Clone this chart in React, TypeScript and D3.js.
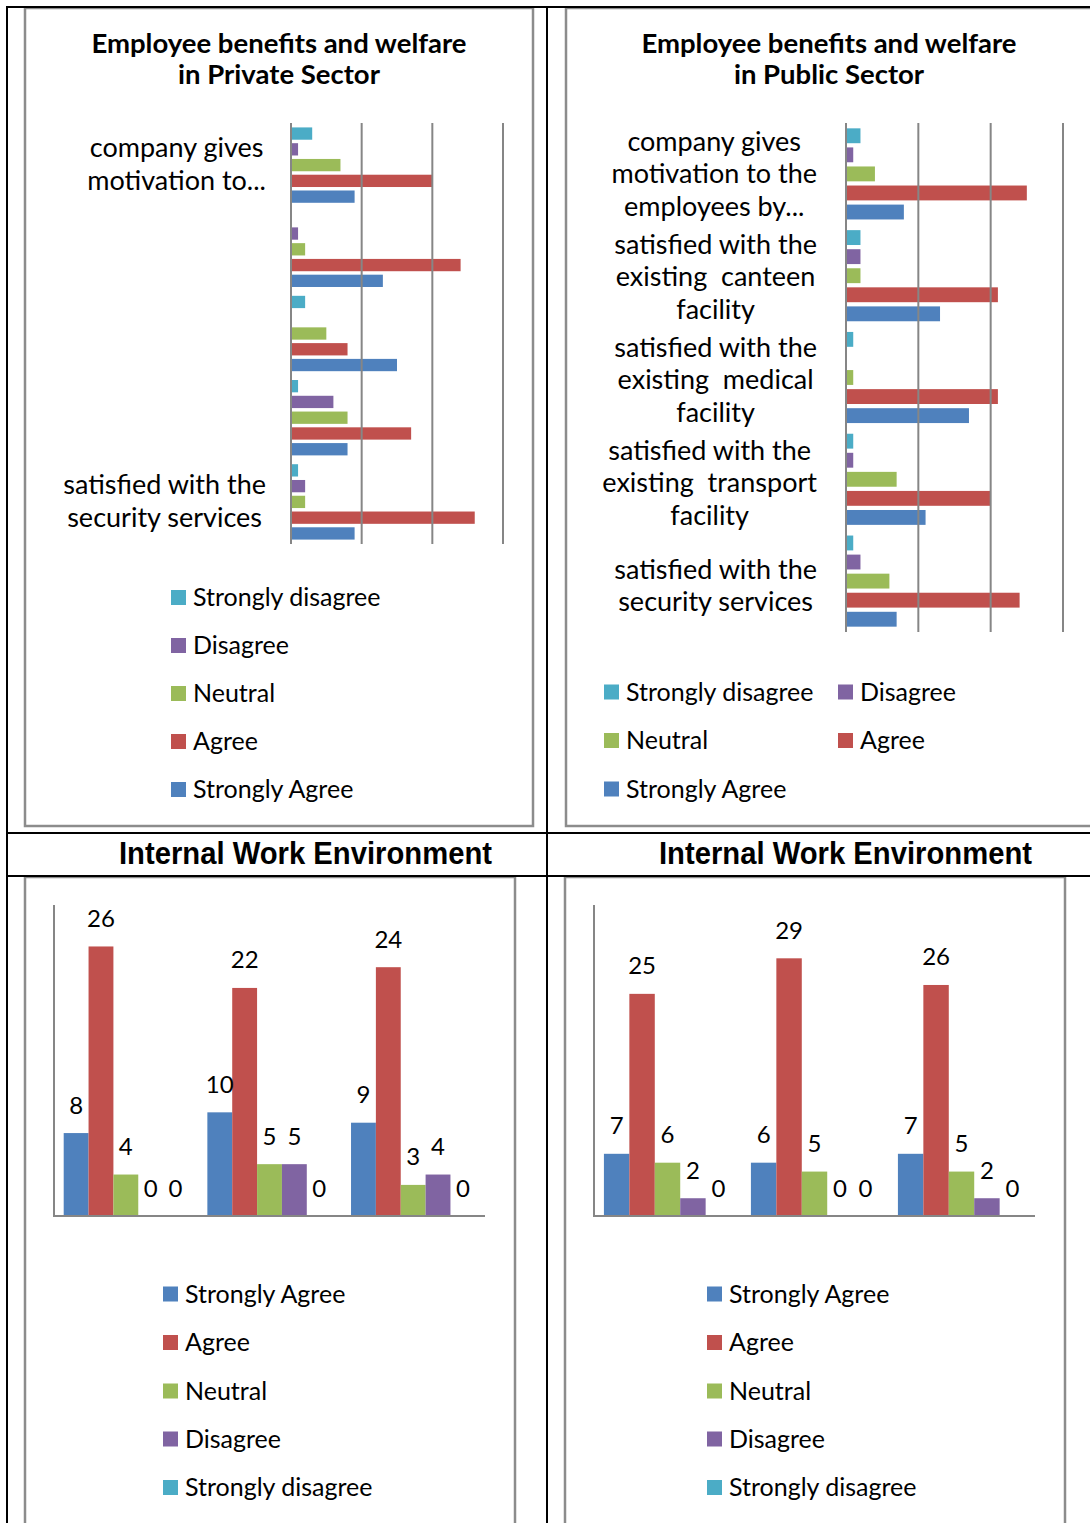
import { useEffect, useRef } from 'react';
import * as d3 from 'd3';

// series order as Excel stores them (first one sits at the bottom of a bar group)
const seriesNames = ['Strongly Agree', 'Agree', 'Neutral', 'Disagree', 'Strongly disagree'];
const seriesColors = ['#4F81BD', '#C0504D', '#9BBB59', '#8064A2', '#4BACC6'];

const benefitTicks = [0, 10, 20, 30];

const privateBenefitLabels: string[][] = [
    ['company gives', 'motivation to...'],
    [],
    [],
    [],
    ['satisfied with the', 'security services'],
];
// values per question: SA, A, N, D, SD
const privateBenefitValues = [
    [9, 20, 7, 1, 3],
    [13, 24, 2, 1, 0],
    [15, 8, 5, 0, 2],
    [8, 17, 8, 6, 1],
    [9, 26, 2, 2, 1],
];

const publicBenefitLabels: string[][] = [
    ['company gives', 'motivation to the', 'employees by...'],
    ['satisfied with the', 'existing  canteen', 'facility'],
    ['satisfied with the', 'existing  medical', 'facility'],
    ['satisfied with the', 'existing  transport', 'facility'],
    ['satisfied with the', 'security services'],
];
const publicBenefitValues = [
    [8, 25, 4, 1, 2],
    [13, 21, 2, 2, 2],
    [17, 21, 1, 0, 1],
    [11, 20, 7, 1, 1],
    [7, 24, 6, 2, 1],
];

const privateWorkEnv = [
    [8, 26, 4, 0, 0],
    [10, 22, 5, 5, 0],
    [9, 24, 3, 4, 0],
];
const publicWorkEnv = [
    [7, 25, 6, 2, 0],
    [6, 29, 5, 0, 0],
    [7, 26, 5, 2, 0],
];

const FONT = 'Lato, "Open Sans", sans-serif';
const GRID = '#868686';

type Sel = d3.Selection<SVGGElement, unknown, null, undefined>;

function drawHBars(g: Sel, labels: string[][], values: number[][], box: {
    left: number; right: number; top: number; bottom: number; labelBottom: number; labelRight: number;
}) {
    const x = d3.scaleLinear().domain([0, 30]).range([box.left, box.right]);
    const y = d3.scaleBand<number>().domain(d3.range(values.length)).range([box.top, box.bottom]);
    const yLab = d3.scaleBand<number>().domain(d3.range(values.length)).range([box.top, box.labelBottom]);
    const inner = d3.scaleBand<string>()
        .domain(seriesNames.slice().reverse())
        .range([0, y.bandwidth()])
        .paddingInner(0.22)
        .paddingOuter(0.28);

    values.forEach((row, i) => {
        g.append('g').selectAll('rect')
            .data(row.map((v, k) => ({ v, k })).filter(d => d.v > 0))
            .join('rect')
            .attr('x', x(0))
            .attr('y', d => (y(i) as number) + (inner(seriesNames[d.k]) as number))
            .attr('width', d => x(d.v) - x(0))
            .attr('height', inner.bandwidth())
            .attr('fill', d => seriesColors[d.k]);
    });

    // gridlines (drawn over the bars like in the original)
    g.append('g').selectAll('line')
        .data(benefitTicks)
        .join('line')
        .attr('x1', d => x(d)).attr('x2', d => x(d))
        .attr('y1', box.top).attr('y2', box.bottom)
        .attr('stroke', GRID)
        .attr('stroke-width', 2);

    labels.forEach((lines, i) => {
        if (!lines.length) return;
        const cy = (yLab(i) as number) + yLab.bandwidth() / 2;
        const t = g.append('text')
            .attr('font-family', FONT)
            .attr('font-size', 27)
            .attr('fill', '#000')
            .attr('text-anchor', 'middle')
            .style('white-space', 'pre');
        lines.forEach((ln, j) => {
            t.append('tspan')
                .attr('x', 0)
                .attr('y', cy + (j - (lines.length - 1) / 2) * 32.5 + 8.5)
                .text(ln);
        });
        const w = d3.max(t.selectAll<SVGTSpanElement, unknown>('tspan').nodes(), n => n.getComputedTextLength()) || 0;
        t.attr('transform', `translate(${box.labelRight - w / 2},0)`);
    });
}

function drawVBars(g: Sel, values: number[][], max: number, box: {
    left: number; right: number; top: number; bottom: number;
}) {
    const x = d3.scaleBand<number>().domain(d3.range(values.length)).range([box.left, box.right]);
    const inner = d3.scaleBand<string>()
        .domain(seriesNames)
        .range([0, x.bandwidth()])
        .paddingInner(0)
        .paddingOuter(0.39);
    const y = d3.scaleLinear().domain([0, max]).range([box.bottom, box.top]);

    values.forEach((row, i) => {
        const data = row.map((v, k) => ({ v, k }));
        g.append('g').selectAll('rect')
            .data(data.filter(d => d.v > 0))
            .join('rect')
            .attr('x', d => (x(i) as number) + (inner(seriesNames[d.k]) as number))
            .attr('y', d => y(d.v))
            .attr('width', inner.bandwidth())
            .attr('height', d => y(0) - y(d.v))
            .attr('fill', d => seriesColors[d.k]);

        // data labels, zeros included
        g.append('g').selectAll('text')
            .data(data)
            .join('text')
            .attr('x', d => (x(i) as number) + (inner(seriesNames[d.k]) as number) + inner.bandwidth() / 2)
            .attr('y', d => y(d.v) - 19.5)
            .attr('text-anchor', 'middle')
            .attr('font-family', FONT)
            .attr('font-size', 24)
            .text(d => d.v);
    });

    g.append('line')
        .attr('x1', box.left).attr('x2', box.left)
        .attr('y1', box.top).attr('y2', box.bottom + 1)
        .attr('stroke', GRID).attr('stroke-width', 2);
    g.append('line')
        .attr('x1', box.left - 1).attr('x2', box.right)
        .attr('y1', box.bottom).attr('y2', box.bottom)
        .attr('stroke', GRID).attr('stroke-width', 2);
}

function drawLegend(g: Sel, order: number[], cols: number[], rows: number[]) {
    order.forEach((k, idx) => {
        const col = cols[idx % cols.length];
        const cy = rows[Math.floor(idx / cols.length)];
        g.append('rect')
            .attr('x', col).attr('y', cy - 7.5)
            .attr('width', 15).attr('height', 15)
            .attr('fill', seriesColors[k]);
        g.append('text')
            .attr('x', col + 22).attr('y', cy + 8.5)
            .attr('font-family', FONT)
            .attr('font-size', 25)
            .text(seriesNames[k]);
    });
}

const App = () => {
    const svgRef = useRef<SVGSVGElement>(null);

    useEffect(() => {
        if (!svgRef.current) return;
        const svg = d3.select(svgRef.current);
        svg.selectAll('*').remove();
        const root = svg.append('g') as unknown as Sel;

        // chart frames
        const frames = [
            [25, 8, 533, 826],
            [566, 8, 1100, 826],
            [25, 877, 515, 1540],
            [565, 877, 1065, 1540],
        ];
        root.selectAll('rect.frame')
            .data(frames)
            .join('rect')
            .attr('class', 'frame')
            .attr('x', d => d[0]).attr('y', d => d[1])
            .attr('width', d => d[2] - d[0]).attr('height', d => d[3] - d[1])
            .attr('fill', 'none')
            .attr('stroke', '#8c8c8c')
            .attr('stroke-width', 2.5);

        // table rules
        const rules = [
            [7, 7, 1090, 7],
            [7, 6, 7, 1523],
            [547, 6, 547, 1523],
            [7, 833, 1090, 833],
            [7, 876, 1090, 876],
        ];
        root.selectAll('line.rule')
            .data(rules)
            .join('line')
            .attr('class', 'rule')
            .attr('x1', d => d[0]).attr('y1', d => d[1])
            .attr('x2', d => d[2]).attr('y2', d => d[3])
            .attr('stroke', '#000')
            .attr('stroke-width', 2);

        // titles
        const titles = [
            { cx: 279, lines: ['Employee benefits and welfare', 'in Private Sector'] },
            { cx: 829, lines: ['Employee benefits and welfare', 'in Public Sector'] },
        ];
        titles.forEach(t => {
            const txt = root.append('text')
                .attr('font-family', FONT)
                .attr('font-weight', 'bold')
                .attr('font-size', 27.5)
                .attr('text-anchor', 'middle');
            t.lines.forEach((ln, j) => {
                txt.append('tspan').attr('x', t.cx).attr('y', 53 + j * 31).text(ln);
            });
        });
        [305.5, 845.5].forEach(cx => {
            root.append('text')
                .attr('x', cx).attr('y', 864)
                .attr('text-anchor', 'middle')
                .attr('font-family', '"Liberation Sans Narrow", "Liberation Sans", Arial, sans-serif')
                .attr('font-weight', 'bold')
                .attr('font-size', 31)
                .attr('textLength', 373)
                .attr('lengthAdjust', 'spacingAndGlyphs')
                .text('Internal Work Environment');
        });

        drawHBars(root, privateBenefitLabels, privateBenefitValues, {
            left: 291, right: 503, top: 123, bottom: 544, labelBottom: 544, labelRight: 266,
        });
        drawHBars(root, publicBenefitLabels, publicBenefitValues, {
            left: 846, right: 1063, top: 123, bottom: 632, labelBottom: 638, labelRight: 817,
        });

        drawVBars(root, privateWorkEnv, 30, { left: 54, right: 485, top: 905, bottom: 1216 });
        drawVBars(root, publicWorkEnv, 35, { left: 594, right: 1035, top: 905, bottom: 1216 });

        const reversed = [4, 3, 2, 1, 0];
        drawLegend(root, reversed, [171], [597.5, 645.5, 693.5, 741.5, 789.5]);
        drawLegend(root, reversed, [604, 838], [692, 740.5, 789]);
        drawLegend(root, [0, 1, 2, 3, 4], [163], [1294, 1342.5, 1391, 1439, 1487.5]);
        drawLegend(root, [0, 1, 2, 3, 4], [707], [1294, 1342.5, 1391, 1439, 1487.5]);
    }, []);

    return (
        <svg
            ref={svgRef}
            width={1090}
            height={1523}
            style={{ position: 'absolute', left: 0, top: 0, background: '#fff' }}
        />
    );
};

export default App;
